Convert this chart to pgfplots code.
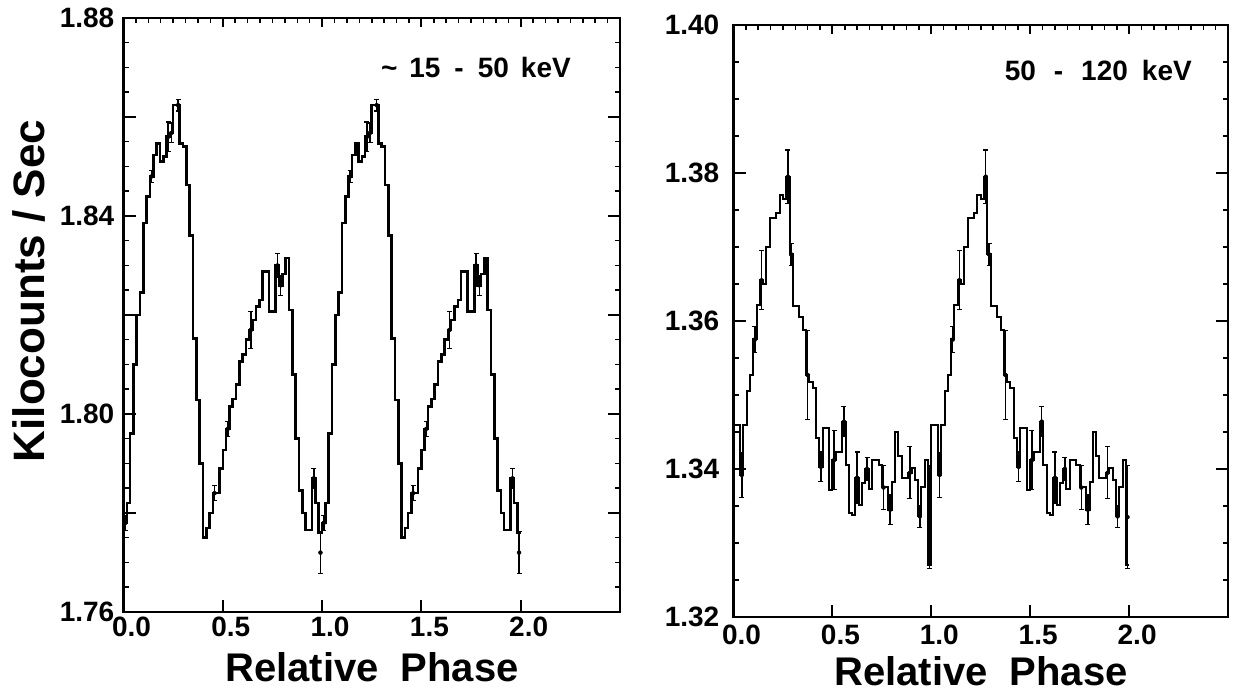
\documentclass[border=0pt]{standalone}
\usepackage{pgfplots}
\usepackage{pgfplotstable}
\pgfplotsset{compat=1.18}
\usepackage{fontspec}
\setmainfont{Liberation Sans}

% pulse profile, 15-50 keV (two cycles)
\pgfplotstableread{
x y
0.0000 1.7780
0.0167 1.7820
0.0333 1.7960
0.0500 1.8100
0.0667 1.8200
0.0833 1.8245
0.1000 1.8386
0.1167 1.8439
0.1333 1.8480
0.1500 1.8523
0.1667 1.8547
0.1833 1.8510
0.2000 1.8520
0.2167 1.8560
0.2333 1.8568
0.2500 1.8624
0.2667 1.8624
0.2833 1.8547
0.3000 1.8540
0.3167 1.8463
0.3333 1.8360
0.3500 1.8152
0.3667 1.8028
0.3833 1.7900
0.4000 1.7750
0.4167 1.7770
0.4333 1.7800
0.4500 1.7840
0.4667 1.7840
0.4833 1.7890
0.5000 1.7927
0.5167 1.7970
0.5333 1.8015
0.5500 1.8030
0.5667 1.8060
0.5833 1.8106
0.6000 1.8120
0.6167 1.8150
0.6333 1.8170
0.6500 1.8190
0.6667 1.8217
0.6833 1.8230
0.7000 1.8288
0.7167 1.8288
0.7333 1.8207
0.7500 1.8207
0.7667 1.8300
0.7833 1.8260
0.8000 1.8283
0.8167 1.8315
0.8333 1.8210
0.8500 1.8080
0.8667 1.7950
0.8833 1.7846
0.9000 1.7800
0.9167 1.7766
0.9333 1.7766
0.9500 1.7870
0.9667 1.7820
0.9833 1.7760
1.0000 1.7780
1.0167 1.7820
1.0333 1.7960
1.0500 1.8100
1.0667 1.8200
1.0833 1.8245
1.1000 1.8386
1.1167 1.8439
1.1333 1.8480
1.1500 1.8523
1.1667 1.8547
1.1833 1.8510
1.2000 1.8520
1.2167 1.8560
1.2333 1.8568
1.2500 1.8624
1.2667 1.8624
1.2833 1.8547
1.3000 1.8540
1.3167 1.8463
1.3333 1.8360
1.3500 1.8152
1.3667 1.8028
1.3833 1.7900
1.4000 1.7750
1.4167 1.7770
1.4333 1.7800
1.4500 1.7840
1.4667 1.7840
1.4833 1.7890
1.5000 1.7927
1.5167 1.7970
1.5333 1.8015
1.5500 1.8030
1.5667 1.8060
1.5833 1.8106
1.6000 1.8120
1.6167 1.8150
1.6333 1.8170
1.6500 1.8190
1.6667 1.8217
1.6833 1.8230
1.7000 1.8288
1.7167 1.8288
1.7333 1.8207
1.7500 1.8207
1.7667 1.8300
1.7833 1.8260
1.8000 1.8283
1.8167 1.8315
1.8333 1.8210
1.8500 1.8080
1.8667 1.7950
1.8833 1.7846
1.9000 1.7800
1.9167 1.7766
1.9333 1.7766
1.9500 1.7870
1.9667 1.7820
1.9833 1.7760
2.0000 1.7760
}\softdata

% pulse profile, 50-120 keV (two cycles)
\pgfplotstableread{
x y
0.0000 1.3459
0.0167 1.3459
0.0333 1.3392
0.0500 1.3459
0.0667 1.3505
0.0833 1.3527
0.1000 1.3575
0.1167 1.3622
0.1333 1.3655
0.1500 1.3650
0.1667 1.3700
0.1833 1.3739
0.2000 1.3739
0.2167 1.3746
0.2333 1.3770
0.2500 1.3765
0.2667 1.3795
0.2833 1.3690
0.3000 1.3620
0.3167 1.3620
0.3333 1.3606
0.3500 1.3588
0.3667 1.3527
0.3833 1.3518
0.4000 1.3509
0.4167 1.3442
0.4333 1.3403
0.4500 1.3455
0.4667 1.3455
0.4833 1.3372
0.5000 1.3412
0.5167 1.3423
0.5333 1.3423
0.5500 1.3464
0.5667 1.3405
0.5833 1.3340
0.6000 1.3338
0.6167 1.3388
0.6333 1.3351
0.6500 1.3381
0.6667 1.3400
0.6833 1.3373
0.7000 1.3412
0.7167 1.3412
0.7333 1.3405
0.7500 1.3375
0.7667 1.3375
0.7833 1.3345
0.8000 1.3382
0.8167 1.3450
0.8333 1.3417
0.8500 1.3388
0.8667 1.3388
0.8833 1.3395
0.9000 1.3402
0.9167 1.3385
0.9333 1.3336
0.9500 1.3375
0.9667 1.3412
0.9833 1.3270
1.0000 1.3459
1.0167 1.3459
1.0333 1.3392
1.0500 1.3459
1.0667 1.3505
1.0833 1.3527
1.1000 1.3575
1.1167 1.3622
1.1333 1.3655
1.1500 1.3650
1.1667 1.3700
1.1833 1.3739
1.2000 1.3739
1.2167 1.3746
1.2333 1.3770
1.2500 1.3765
1.2667 1.3795
1.2833 1.3690
1.3000 1.3620
1.3167 1.3620
1.3333 1.3606
1.3500 1.3588
1.3667 1.3527
1.3833 1.3518
1.4000 1.3509
1.4167 1.3442
1.4333 1.3403
1.4500 1.3455
1.4667 1.3455
1.4833 1.3372
1.5000 1.3412
1.5167 1.3423
1.5333 1.3423
1.5500 1.3464
1.5667 1.3405
1.5833 1.3340
1.6000 1.3338
1.6167 1.3388
1.6333 1.3351
1.6500 1.3381
1.6667 1.3400
1.6833 1.3373
1.7000 1.3412
1.7167 1.3412
1.7333 1.3405
1.7500 1.3375
1.7667 1.3375
1.7833 1.3345
1.8000 1.3382
1.8167 1.3450
1.8333 1.3417
1.8500 1.3388
1.8667 1.3388
1.8833 1.3395
1.9000 1.3402
1.9167 1.3385
1.9333 1.3336
1.9500 1.3375
1.9667 1.3412
1.9833 1.3270
2.0000 1.3270
}\harddata

\pgfplotsset{
  phaseaxis/.style={
    scale only axis,
    anchor=south west,
    xmin=0, xmax=2.5,
    axis line style={line width=2.5pt},
    tick align=inside,
    major tick style={black, line width=2pt},
    minor tick style={black, line width=1.5pt},
    ticklabel style={font=\fontsize{28}{28}\selectfont\bfseries, inner sep=0pt},
  },
  lowerticks/.style={
    xtick={0,0.5,1,1.5,2},
    xticklabels={0.0,0.5,1.0,1.5,2.0},
    xtick pos=left,
    ytick pos=both,
    major tick length=12pt,
    minor tick length=5pt,
    xticklabel style={yshift=-5pt, xshift=8pt},
  },
  topticks/.style={
    axis x line*=top,
    axis y line=none,
    xtick={0,0.5,1,1.5,2,2.5},
    xticklabels={},
    minor x tick num=7,
    ytick=\empty,
    major tick length=9pt,
    minor tick length=5pt,
  },
  errs/.style={
    only marks, mark=none,
    error bars/.cd, y dir=both, y explicit,
    error bar style={line width=1.5pt},
    error mark options={rotate=90, mark size=2.5pt, line width=1.2pt},
  },
}

\begin{document}
\begin{tikzpicture}[x=1pt, y=1pt]
\useasboundingbox (0,0) rectangle (1234,696);

% ---- left panel ----
\begin{axis}[phaseaxis, lowerticks,
  at={(123.5pt,84pt)}, width=496.5pt, height=594pt,
  ymin=1.76, ymax=1.88,
  ytick={1.76,1.80,1.84,1.88},
  yticklabels={1.76,1.80,1.84,1.88},
  extra y ticks={1.78,1.82,1.86},
  extra y tick labels={},
  minor y tick num=7,
  yticklabel style={xshift=-9pt},
]
\addplot[const plot mark left, line width=2.6pt, black] table {\softdata};
\addplot[errs] coordinates {
  (0.0083,1.7780) +- (0,0.0015)
  (0.1417,1.8480) +- (0,0.0012)
  (0.2250,1.8560) +- (0,0.0030)
  (0.2417,1.8568) +- (0,0.0020)
  (0.2750,1.8624) +- (0,0.0012)
  (0.4583,1.7840) +- (0,0.0015)
  (0.5250,1.7970) +- (0,0.0015)
  (0.6417,1.8170) +- (0,0.0037)
  (0.7750,1.8300) +- (0,0.0025)
  (0.7917,1.8260) +- (0,0.0020)
  (0.9583,1.7870) +- (0,0.0020)
  (0.9917,1.7720) +- (0,0.0043)
  (1.0083,1.7780) +- (0,0.0015)
  (1.1417,1.8480) +- (0,0.0012)
  (1.2250,1.8560) +- (0,0.0030)
  (1.2417,1.8568) +- (0,0.0020)
  (1.2750,1.8624) +- (0,0.0012)
  (1.4583,1.7840) +- (0,0.0015)
  (1.5250,1.7970) +- (0,0.0015)
  (1.6417,1.8170) +- (0,0.0037)
  (1.7750,1.8300) +- (0,0.0025)
  (1.7917,1.8260) +- (0,0.0020)
  (1.9583,1.7870) +- (0,0.0020)
  (1.9917,1.7720) +- (0,0.0043)
};
\end{axis}
\begin{axis}[phaseaxis, topticks,
  at={(123.5pt,84pt)}, width=496.5pt, height=594pt,
  ymin=1.76, ymax=1.88]
\end{axis}

% ---- right panel ----
\begin{axis}[phaseaxis, lowerticks,
  at={(733.5pt,79pt)}, width=494.5pt, height=592pt,
  ymin=1.32, ymax=1.40,
  ytick={1.32,1.34,1.36,1.38,1.40},
  yticklabels={1.32,1.34,1.36,1.38,1.40},
  minor y tick num=3,
  yticklabel style={xshift=-14pt},
  xticklabel style={yshift=-3pt},
]
\addplot[const plot mark left, line width=2pt, black] table {\harddata};
\addplot[errs] coordinates {
  (0.0417,1.3392) +- (0,0.0030)
  (0.1083,1.3575) +- (0,0.0018)
  (0.1417,1.3655) +- (0,0.0040)
  (0.2750,1.3795) +- (0,0.0036)
  (0.2917,1.3690) +- (0,0.0015)
  (0.3750,1.3527) +- (0,0.0060)
  (0.4417,1.3403) +- (0,0.0020)
  (0.5083,1.3412) +- (0,0.0040)
  (0.5583,1.3464) +- (0,0.0020)
  (0.6250,1.3388) +- (0,0.0035)
  (0.6750,1.3400) +- (0,0.0015)
  (0.7583,1.3375) +- (0,0.0030)
  (0.7917,1.3345) +- (0,0.0020)
  (0.8917,1.3395) +- (0,0.0035)
  (0.9417,1.3336) +- (0,0.0015)
  (0.9917,1.3335) +- (0,0.0070)
  (1.0417,1.3392) +- (0,0.0030)
  (1.1083,1.3575) +- (0,0.0018)
  (1.1417,1.3655) +- (0,0.0040)
  (1.2750,1.3795) +- (0,0.0036)
  (1.2917,1.3690) +- (0,0.0015)
  (1.3750,1.3527) +- (0,0.0060)
  (1.4417,1.3403) +- (0,0.0020)
  (1.5083,1.3412) +- (0,0.0040)
  (1.5583,1.3464) +- (0,0.0020)
  (1.6250,1.3388) +- (0,0.0035)
  (1.6750,1.3400) +- (0,0.0015)
  (1.7583,1.3375) +- (0,0.0030)
  (1.7917,1.3345) +- (0,0.0020)
  (1.8917,1.3395) +- (0,0.0035)
  (1.9417,1.3336) +- (0,0.0015)
  (1.9917,1.3335) +- (0,0.0070)
};
\end{axis}
\begin{axis}[phaseaxis, topticks,
  at={(733.5pt,79pt)}, width=494.5pt, height=592pt,
  ymin=1.32, ymax=1.40]
\end{axis}

% ---- labels ----
\node[rotate=90, anchor=base, inner sep=0pt, font=\fontsize{44}{44}\selectfont\bfseries]
  at (44,405) {Kilocounts / Sec};
\node[anchor=base, inner sep=0pt, font=\fontsize{40}{40}\selectfont\bfseries]
  at (372,15) {Relative\ \ Phase};
\node[anchor=base, inner sep=0pt, font=\fontsize{40}{40}\selectfont\bfseries]
  at (981,11) {Relative\ \ Phase};
\node[anchor=base east, inner sep=0pt, font=\fontsize{28}{28}\selectfont\bfseries]
  at (571,618) {\textasciitilde\hspace{12pt}15\hspace{14pt}-\hspace{14pt}50\hspace{12pt}keV};
\node[anchor=base east, inner sep=0pt, font=\fontsize{28}{28}\selectfont\bfseries]
  at (1192,615) {50\hspace{18pt}-\hspace{18pt}120\hspace{14pt}keV};
\end{tikzpicture}
\end{document}
